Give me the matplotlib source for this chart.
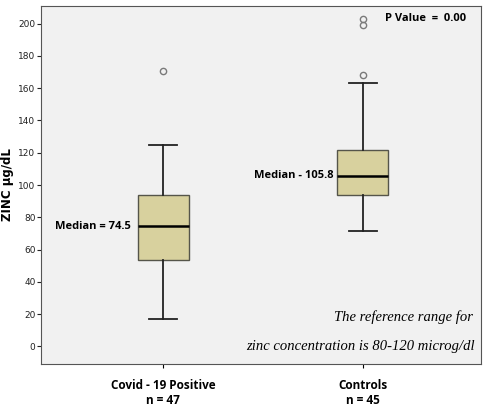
import matplotlib.pyplot as plt

groups = ['Covid - 19 Positive\nn = 47', 'Controls\nn = 45']
medians = [74.5, 105.8]
q1 = [53.4, 93.5]
q3 = [94.1, 122.0]
whislo = [17.0, 71.3]
whishi = [125.0, 163.0]
outliers = [[171.0], [168.0, 199.0, 202.7]]

stats = []
for i in range(len(groups)):
    stats.append({'med': medians[i], 'q1': q1[i], 'q3': q3[i],
                  'whislo': whislo[i], 'whishi': whishi[i],
                  'fliers': outliers[i], 'label': groups[i]})

fig = plt.figure(figsize=(4.9, 4.08), dpi=100)
ax = fig.add_axes([0.0837, 0.1078, 0.8979, 0.8775])
ax.set_facecolor('#f1f1f1')

ax.bxp(stats, positions=[1, 2], widths=0.255, patch_artist=True,
       boxprops=dict(facecolor='#d8d19e', edgecolor='#55554a', linewidth=1.0),
       medianprops=dict(color='black', linewidth=1.8),
       whiskerprops=dict(color='#222222', linewidth=1.3),
       capprops=dict(color='#222222', linewidth=1.3),
       capwidths=0.14,
       flierprops=dict(marker='o', markerfacecolor='none', markeredgecolor='#7a7a7a',
                       markersize=4.5, markeredgewidth=1.0))

ax.set_xlim(0.39, 2.59)
ax.set_ylim(-11, 211)
ax.set_yticks(range(0, 201, 20))
ax.tick_params(axis='y', labelsize=6.5, length=3, pad=1, colors='#222222')
ax.tick_params(axis='x', length=3, pad=8)
for lab in ax.get_xticklabels():
    lab.set_fontfamily('Open Sans')
    lab.set_fontweight('bold')
    lab.set_fontsize(8.5)
for s in ax.spines.values():
    s.set_color('#555555')

ax.set_ylabel('ZINC µg/dL', fontsize=8.5, fontweight='bold', labelpad=3)

ax.text(0.84, medians[0], 'Median = 74.5', ha='right', va='center',
        fontsize=8, fontweight='bold', family='Open Sans')
ax.text(1.855, medians[1], 'Median - 105.8', ha='right', va='center',
        fontsize=8, fontweight='bold', family='Open Sans')
ax.text(2.11, 203, 'P Value  =  0.00', ha='left', va='center',
        fontsize=8, fontweight='bold', family='Open Sans')
ax.text(2.55, 18, 'The reference range for', ha='right', va='center',
        fontsize=10.5, style='italic', family='Liberation Serif')
ax.text(2.56, 0, 'zinc concentration is 80-120 microg/dl', ha='right', va='center',
        fontsize=10.5, style='italic', family='Liberation Serif')

fig.savefig('out.png', dpi=100, facecolor='white')
